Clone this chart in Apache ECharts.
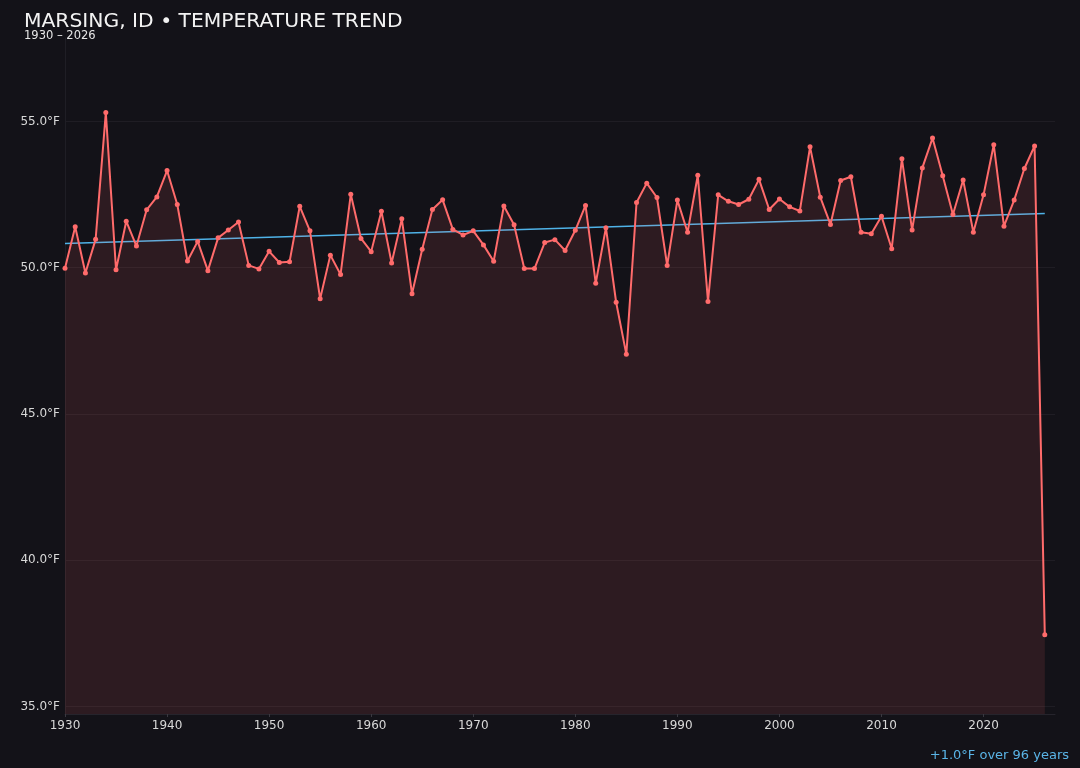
<!DOCTYPE html>
<html>
<head>
<meta charset="utf-8">
<style>
html,body{margin:0;padding:0;background:#131218;}
#chart{width:1080px;height:768px;}
</style>
<script src="https://cdn.jsdelivr.net/npm/echarts@6/dist/echarts.min.js"></script>
</head>
<body>
<div id="chart"></div>
<script>
var years = [];
for (var y = 1930; y <= 2026; y++) years.push(y);
var temps = [
  49.98, 51.40, 49.82, 50.97, 55.30, 49.93, 51.59, 50.74, 51.98, 52.42,
  53.32, 52.16, 50.23, 50.90, 49.90, 51.02, 51.29, 51.56, 50.08, 49.96,
  50.56, 50.18, 50.20, 52.10, 51.26, 48.94, 50.43, 49.77, 52.51, 51.00,
  50.55, 51.93, 50.16, 51.67, 49.11, 50.63, 51.99, 52.32, 51.31, 51.12,
  51.26, 50.78, 50.22, 52.11, 51.47, 49.97, 49.97, 50.86, 50.96, 50.59,
  51.28, 52.13, 49.47, 51.37, 48.82, 47.04, 52.23, 52.89, 52.40, 50.08,
  52.31, 51.21, 53.16, 48.85, 52.49, 52.27, 52.16, 52.34, 53.02, 51.99,
  52.35, 52.08, 51.94, 54.13, 52.41, 51.48, 52.98, 53.11, 51.21, 51.16,
  51.76, 50.65, 53.72, 51.29, 53.41, 54.43, 53.14, 51.82, 53.00, 51.21,
  52.49, 54.20, 51.42, 52.31, 53.39, 54.16, 37.46
];
var trendYears = [1930, 2026];
var trendValues = [50.83, 51.85];
var yTicks = [35, 40, 45, 50, 55];
var xTicks = [1930, 1940, 1950, 1960, 1970, 1980, 1990, 2000, 2010, 2020];
var titleText = 'MARSING, ID \u2022 TEMPERATURE TREND';
var subtitleText = '1930 \u2013 2026';
var noteText = '+1.0\u00b0F over 96 years';

var seriesData = years.map(function (yr, i) { return [yr, temps[i]]; });
var trendData = trendYears.map(function (yr, i) { return [yr, trendValues[i]]; });

var chart = echarts.init(document.getElementById('chart'));
chart.setOption({
  backgroundColor: '#131218',
  animation: false,
  textStyle: { fontFamily: 'DejaVu Sans' },
  title: [
    { text: titleText, left: 24, top: 12, padding: 0, textStyle: { color: '#f2f2f2', fontSize: 20.3, fontWeight: 'normal', fontFamily: 'DejaVu Sans' } },
    { text: subtitleText, left: 24, top: 30, padding: 0, textStyle: { color: '#e6e6e6', fontSize: 11.5, fontWeight: 'normal', fontFamily: 'DejaVu Sans' } }
  ],
  graphic: [
    { type: 'text', right: 11, top: 749, style: { text: noteText, fill: '#5ab4e6', font: '13px "DejaVu Sans"' } }
  ],
  grid: { left: 65, right: 25, top: 38, bottom: 54 },
  xAxis: {
    type: 'value',
    min: 1930,
    max: 2027,
    interval: 10,
    axisLine: { show: true, lineStyle: { color: '#26242c', width: 1 } },
    axisTick: { show: true, length: 3, customValues: xTicks, lineStyle: { color: '#3a3840' } },
    axisLabel: {
      color: '#d8d8d8', fontSize: 12, margin: 6,
      formatter: function (v) { return xTicks.indexOf(v) >= 0 ? String(v) : ''; }
    },
    splitLine: { show: false }
  },
  yAxis: {
    type: 'value',
    min: 34.75,
    max: 57.85,
    splitNumber: 5,
    axisLine: { show: true, lineStyle: { color: '#1f1e25', width: 1 } },
    axisTick: { show: false },
    axisLabel: {
      color: '#d8d8d8', fontSize: 12, margin: 5,
      showMinLabel: false, showMaxLabel: false,
      formatter: function (v) { return yTicks.indexOf(v) >= 0 ? v.toFixed(1) + '\u00b0F' : ''; }
    },
    splitLine: { show: true, showMaxLine: false, showMinLine: false, lineStyle: { color: '#1f1d24', width: 1 } }
  },
  series: [
    {
      type: 'line',
      data: trendData,
      showSymbol: false,
      symbol: 'none',
      lineStyle: { color: '#4fb3e8', width: 1.5 },
      z: 2,
      silent: true
    },
    {
      type: 'line',
      data: seriesData,
      symbol: 'circle',
      symbolSize: 5,
      showSymbol: true,
      itemStyle: { color: '#ff6b6b' },
      lineStyle: { color: '#ff6b6b', width: 2 },
      areaStyle: { color: 'rgba(255,107,107,0.16)' },
      z: 3
    }
  ]
});
</script>
</body>
</html>
